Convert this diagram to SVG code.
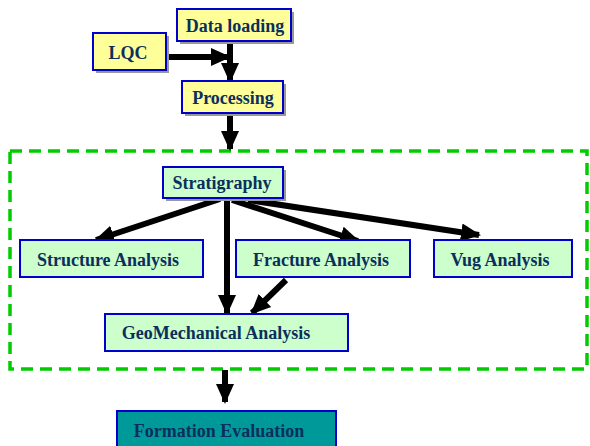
<svg xmlns="http://www.w3.org/2000/svg" width="590" height="446" viewBox="0 0 590 446">
<style>
.box{stroke:#0000cc;stroke-width:2}
.y{fill:#ffff99}
.g{fill:#ccffcc}
.t{fill:#009999}
.sh{fill:#999999}
.lbl{font-family:"Liberation Serif","Times New Roman",serif;font-weight:bold;font-size:18px;fill:#0a2f5c}
.c{fill:none;stroke:#000;stroke-width:6;marker-end:url(#ah)}
</style>
<defs>
<marker id="ah" markerUnits="userSpaceOnUse" viewBox="0 0 20 20" refX="18" refY="10" markerWidth="20" markerHeight="20" orient="auto">
<path d="M0,1 L20,10 L0,19 Z" fill="#000"/>
</marker>
</defs>
<rect x="10" y="151" width="577" height="218" fill="none" stroke="#00cc00" stroke-width="3.5" stroke-dasharray="12,7"/>
<g id="connectors">
<line class="c" x1="230" y1="41" x2="230" y2="81"/>
<line class="c" x1="168" y1="57" x2="229" y2="57"/>
<line class="c" x1="230" y1="114" x2="230" y2="149"/>
<line class="c" x1="220" y1="199" x2="96" y2="240"/>
<line class="c" x1="227" y1="200" x2="227" y2="313"/>
<line class="c" x1="232" y1="200" x2="358" y2="241"/>
<line class="c" x1="248" y1="200" x2="479" y2="235"/>
<line class="c" x1="286" y1="280" x2="252" y2="313"/>
<line class="c" x1="225" y1="370" x2="225" y2="402"/>
</g>
<g id="data-loading">
<rect class="sh" x="180" y="12" width="114" height="32"/>
<rect class="box y" x="177" y="9" width="114" height="32"/>
<text class="lbl" x="235" y="32" text-anchor="middle">Data loading</text>
</g>
<g id="lqc">
<rect class="sh" x="96" y="36" width="73" height="37"/>
<rect class="box y" x="93" y="33" width="73" height="37"/>
<text class="lbl" x="128" y="59" text-anchor="middle">LQC</text>
</g>
<g id="processing">
<rect class="sh" x="185" y="84" width="101" height="32"/>
<rect class="box y" x="182" y="81" width="101" height="32"/>
<text class="lbl" x="233" y="104" text-anchor="middle">Processing</text>
</g>
<g id="stratigraphy">
<rect class="sh" x="166" y="170" width="120" height="31"/>
<rect class="box g" x="163" y="167" width="120" height="31"/>
<text class="lbl" x="222" y="189" text-anchor="middle">Stratigraphy</text>
</g>
<g id="structure">
<rect class="box g" x="20" y="240" width="183" height="37"/>
<text class="lbl" x="108" y="266" text-anchor="middle">Structure Analysis</text>
</g>
<g id="fracture">
<rect class="box g" x="236" y="240" width="174" height="37"/>
<text class="lbl" x="321" y="266" text-anchor="middle">Fracture Analysis</text>
</g>
<g id="vug">
<rect class="box g" x="434" y="240" width="138" height="37"/>
<text class="lbl" x="500" y="266" text-anchor="middle">Vug Analysis</text>
</g>
<g id="geomechanical">
<rect class="box g" x="105" y="314" width="243" height="37"/>
<text class="lbl" x="216" y="339" text-anchor="middle">GeoMechanical Analysis</text>
</g>
<g id="formation-evaluation">
<rect class="box t" x="117" y="411" width="219" height="40"/>
<text class="lbl" x="219" y="437" text-anchor="middle">Formation Evaluation</text>
</g>
</svg>
